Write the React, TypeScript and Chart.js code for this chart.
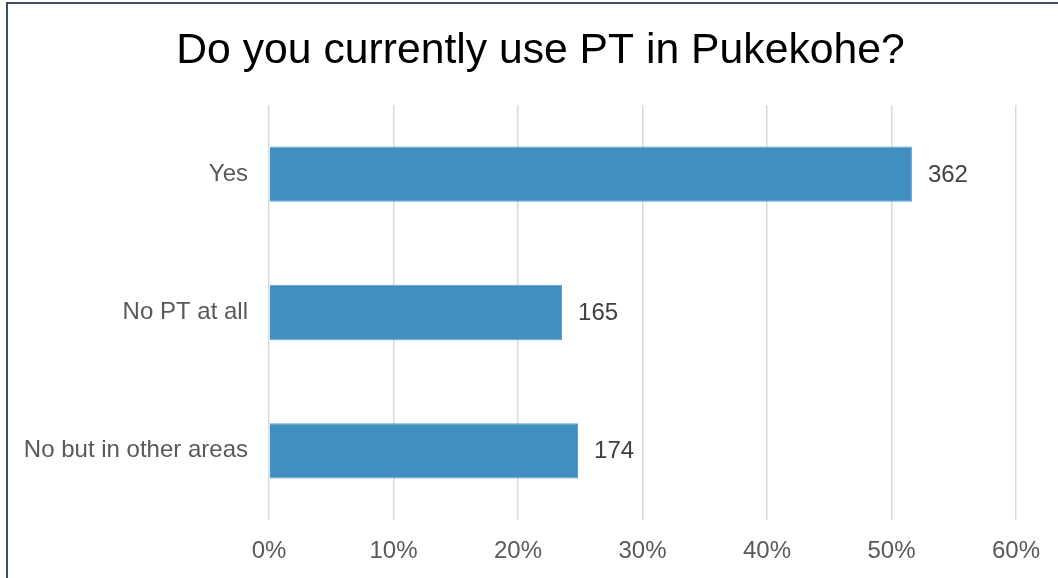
import React, { useEffect, useRef } from "react";
import { Chart, registerables } from "chart.js";

Chart.register(...registerables);

const title = "Do you currently use PT in Pukekohe?";
const categories = ["Yes", "No PT at all", "No but in other areas"];
const counts = [362, 165, 174];
const total = counts.reduce((a, b) => a + b, 0);
const percents = counts.map((c) => (c / total) * 100);
const xTicks = [0, 10, 20, 30, 40, 50, 60];

const FONT = "'Liberation Sans', Arial, sans-serif";

const valueLabels = {
  id: "valueLabels",
  afterDatasetsDraw(chart: any) {
    const ctx = chart.ctx;
    const meta = chart.getDatasetMeta(0);
    ctx.save();
    ctx.font = `24px ${FONT}`;
    ctx.fillStyle = "#404040";
    ctx.textAlign = "left";
    ctx.textBaseline = "middle";
    meta.data.forEach((bar: any, i: number) => {
      ctx.fillText(String(counts[i]), bar.x + 16, bar.y + 1);
    });
    ctx.restore();
  },
};

const shiftTitle = {
  id: "shiftTitle",
  afterLayout(chart: any) {
    const t = chart.titleBlock;
    if (t) {
      t.left += 21;
      t.right += 21;
    }
  },
};

export default function App() {
  const ref = useRef<HTMLCanvasElement | null>(null);
  useEffect(() => {
    if (!ref.current) return;
    const chart = new Chart(ref.current, {
      type: "bar",
      data: {
        labels: categories,
        datasets: [
          {
            data: percents,
            backgroundColor: "#418fc0",
            borderColor: "#5a9fcb",
            borderWidth: 1,
            barPercentage: 0.4,
            categoryPercentage: 1,
          },
        ],
      },
      options: {
        indexAxis: "y",
        animation: false,
        responsive: false,
        maintainAspectRatio: false,
        layout: { padding: { left: 23, right: 42, top: 0, bottom: 0 } },
        plugins: {
          legend: { display: false },
          tooltip: { enabled: false },
          title: {
            display: true,
            text: title,
            color: "#000000",
            font: { family: FONT, size: 42.7, weight: "normal", lineHeight: 1.2 },
            padding: { top: 25.4, bottom: 28.4 },
          },
        },
        scales: {
          x: {
            min: 0,
            max: 60,
            afterBuildTicks: (scale: any) => {
              scale.ticks = xTicks.map((v) => ({ value: v }));
            },
            afterFit: (scale: any) => {
              scale.height = 58;
            },
            ticks: {
              callback: (v: any) => `${v}%`,
              color: "#595959",
              font: { family: FONT, size: 24, lineHeight: 1.2 },
              padding: 16.5,
              maxRotation: 0,
            },
            grid: { color: "#d9d9d9", lineWidth: 1.5, drawTicks: false },
            border: { display: false },
          },
          y: {
            afterFit: (scale: any) => {
              scale.width = 246;
            },
            ticks: {
              color: "#595959",
              font: { family: FONT, size: 24, lineHeight: 1.2 },
              padding: 21,
            },
            grid: { display: false, drawTicks: false },
            border: { display: false },
          },
        },
      },
      plugins: [valueLabels, shiftTitle],
    });
    return () => chart.destroy();
  }, []);

  return (
    <div style={{ position: "fixed", left: 0, top: 0, width: 1058, height: 578, background: "#ffffff" }}>
      <div
        style={{
          position: "absolute",
          left: 6,
          top: 2,
          width: 1052,
          height: 576,
          borderTop: "2px solid #3b4e63",
          borderLeft: "2px solid #3b4e63",
          boxSizing: "border-box",
        }}
      />
      <canvas
        ref={ref}
        width={1058}
        height={578}
        style={{ position: "absolute", left: 0, top: 0, width: 1058, height: 578 }}
      />
    </div>
  );
}
